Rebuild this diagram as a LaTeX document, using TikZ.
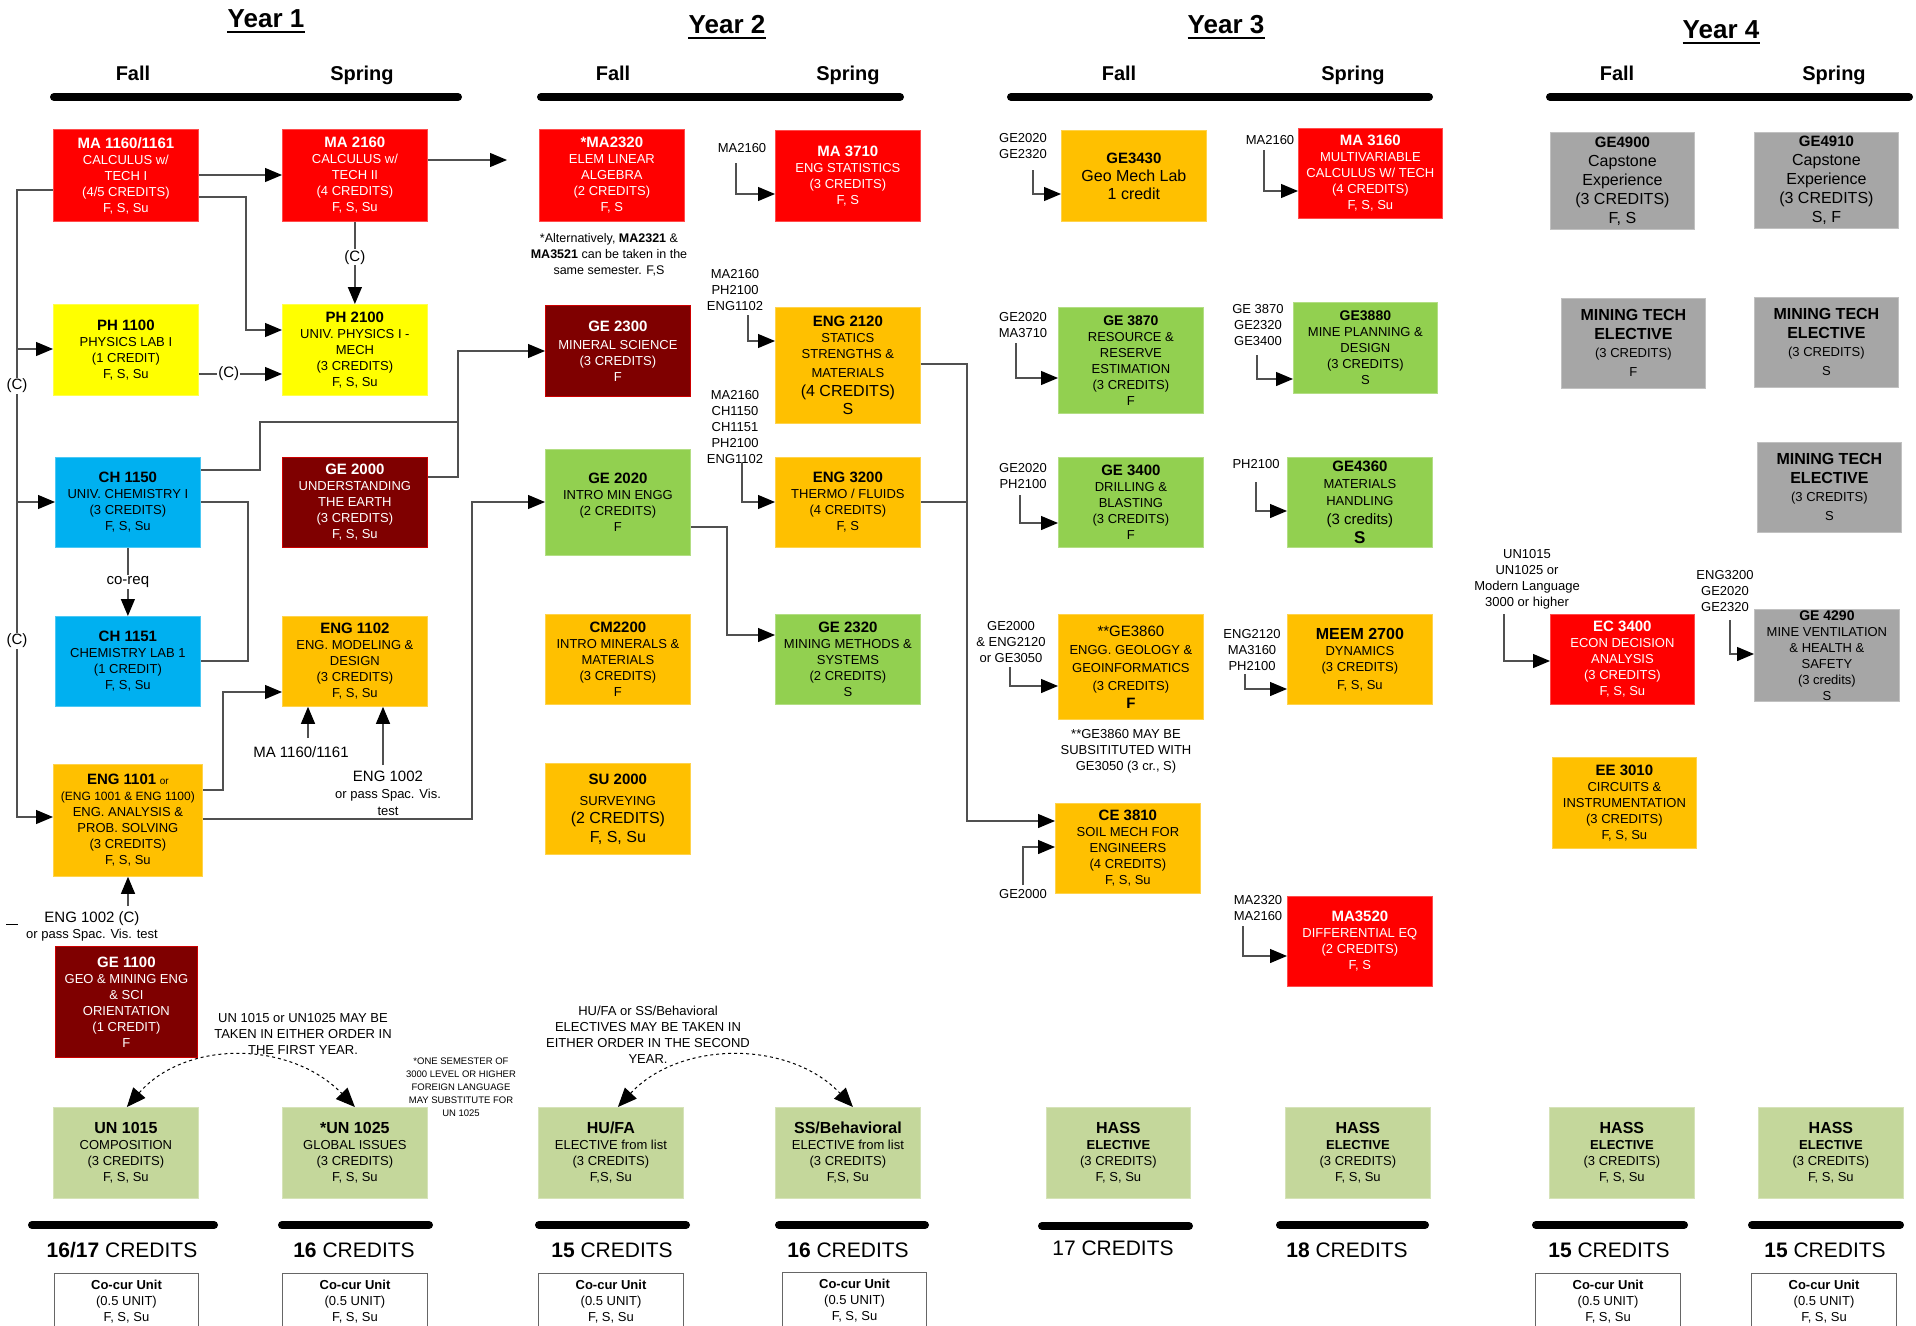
\documentclass[tikz,border=0pt]{standalone}
\usepackage{fontspec}
\setmainfont{Liberation Sans}
\usetikzlibrary{arrows.meta}
\definecolor{cred}{HTML}{FF0000}
\definecolor{cyel}{HTML}{FFFF00}
\definecolor{corg}{HTML}{FFC000}
\definecolor{ccya}{HTML}{00B0F0}
\definecolor{cdrd}{HTML}{7F0000}
\definecolor{cgrn}{HTML}{92D050}
\definecolor{clgr}{HTML}{C4D79B}
\definecolor{cgry}{HTML}{A6A6A6}
\definecolor{clin}{HTML}{505050}
\newcommand\fs[2]{\fontsize{#1}{#2}\selectfont}
\newcommand\crsT[1]{{\fs{15}{16}\bfseries #1}}
\newcommand\crsbox[7]{%
  \pgfmathsetmacro\crsW{#4-#2}\pgfmathsetmacro\crsH{#5-#3}%
  \node[#6, minimum width=\crsW pt, minimum height=\crsH pt] (#1) at (#2,#3) {#7};}
\begin{document}
\begin{tikzpicture}[x=1pt,y=-1pt,
  cb/.style={anchor=north west, inner sep=1pt, align=center, font=\fs{13}{16}, line width=0.8pt},
  redb/.style={cb, fill=cred, draw=cred!70!white, text=white},
  yelb/.style={cb, fill=cyel, draw=cyel!70!white},
  orgb/.style={cb, fill=corg, draw=corg!70!white},
  cyab/.style={cb, fill=ccya, draw=ccya!70!white},
  drdb/.style={cb, fill=cdrd, draw=red!80!black, text=white},
  grnb/.style={cb, fill=cgrn, draw=cgrn!70!white},
  lgrb/.style={cb, fill=clgr, draw=clgr!70!white},
  gryb/.style={cb, fill=cgry, draw=cgry!70!white},
  ccb/.style={anchor=north west, draw=black!60, line width=1pt, fill=white, align=center, font=\fs{13}{16}, inner sep=1pt},
  con/.style={draw=clin, line width=1.2pt},
  arr/.style={con, -{Triangle[length=17pt,width=14pt,color=black]}},
  darr/.style={draw=black, line width=1pt, dashed, {Triangle[length=19pt,width=16pt]}-{Triangle[length=19pt,width=16pt]}},
  lbl/.style={align=center, font=\fs{13}{16}, inner sep=0pt, anchor=north},
  tag/.style={fill=white, inner sep=1pt, font=\fs{15}{16}},
  bar/.style={line width=8pt, line cap=round},
  yr/.style={font=\fs{26}{30}\bfseries, inner sep=0pt},
  sem/.style={font=\fs{20}{24}\bfseries, inner sep=0pt, anchor=base},
  crtxt/.style={font=\fs{21}{24}, inner sep=0pt, anchor=base}]
\useasboundingbox (0,0) rectangle (1916,1325);
\clip (0,0) rectangle (1916,1325);
\fill[white] (0,0) rectangle (1916,1325);

% ---------- headers
\node[yr] (y1) at (266,19) {Year 1};
\node[yr] (y2) at (727,25) {Year 2};
\node[yr] (y3) at (1226,25) {Year 3};
\node[yr] (y4) at (1721,30) {Year 4};
\foreach \n in {y1,y2,y3,y4}
  \draw[line width=2pt] ([yshift=-4pt]\n.south west) -- ([yshift=-4pt]\n.south east);
\node[sem] (f1) at (133,80) {Fall};  \node[sem] (s1) at (362,80) {Spring};
\node[sem] (f2) at (613,80) {Fall};  \node[sem] (s2) at (848,80) {Spring};
\node[sem] (f3) at (1119,80) {Fall}; \node[sem] (s3) at (1353,80) {Spring};
\node[sem] (f4) at (1617,80) {Fall}; \node[sem] (s4) at (1834,80) {Spring};
\draw[bar] (54,97) -- (458,97);
\draw[bar] (541,97) -- (900,97);
\draw[bar] (1011,97) -- (1429,97);
\draw[bar] (1550,97) -- (1909,97);

% ---------- Year 1 fall
\crsbox{MA1160}{53}{129}{198}{221}{redb}{\crsT{MA 1160/1161}\\CALCULUS w/\\TECH I\\(4/5 CREDITS)\\F, S, Su}
\crsbox{PH1100}{53}{304}{198}{395}{yelb}{\crsT{PH 1100}\\PHYSICS LAB I\\(1 CREDIT)\\F, S, Su}
\crsbox{CH1150}{55}{457}{200}{547}{cyab}{\crsT{CH 1150}\\UNIV. CHEMISTRY I\\(3 CREDITS)\\F, S, Su}
\crsbox{CH1151}{55}{616}{200}{706}{cyab}{\crsT{CH 1151}\\CHEMISTRY LAB 1\\(1 CREDIT)\\F, S, Su}
\crsbox{ENG1101}{53}{764}{202}{876}{orgb}{\crsT{ENG 1101} {\fs{10}{16}or}\\{\fs{12}{16}(ENG 1001 \& ENG 1100)}\\ENG. ANALYSIS \&\\PROB. SOLVING\\(3 CREDITS)\\F, S, Su}
\crsbox{GE1100}{55}{946}{197}{1057}{drdb}{\crsT{GE 1100}\\GEO \& MINING ENG\\\& SCI\\ORIENTATION\\(1 CREDIT)\\F}
\crsbox{UN1015}{53}{1107}{198}{1198}{lgrb}{{\fs{16}{16}\bfseries UN 1015}\\COMPOSITION\\(3 CREDITS)\\F, S, Su}

% ---------- Year 1 spring
\crsbox{MA2160}{282}{129}{427}{221}{redb}{\crsT{MA 2160}\\CALCULUS w/\\TECH II\\(4 CREDITS)\\F, S, Su}
\crsbox{PH2100}{282}{304}{427}{395}{yelb}{\crsT{PH 2100}\\UNIV. PHYSICS I -\\MECH\\(3 CREDITS)\\F, S, Su}
\crsbox{GE2000}{282}{457}{427}{547}{drdb}{\crsT{GE 2000}\\UNDERSTANDING\\THE EARTH\\(3 CREDITS)\\F, S, Su}
\crsbox{ENG1102}{282}{616}{427}{706}{orgb}{\crsT{ENG 1102}\\ENG. MODELING \&\\DESIGN\\(3 CREDITS)\\F, S, Su}
\crsbox{UN1025}{282}{1107}{427}{1198}{lgrb}{{\fs{16}{16}\bfseries *UN 1025}\\GLOBAL ISSUES\\(3 CREDITS)\\F, S, Su}

% ---------- Year 2 fall
\crsbox{MA2320}{539}{129}{684}{221}{redb}{\crsT{*MA2320}\\ELEM LINEAR\\ALGEBRA\\(2 CREDITS)\\F, S}
\crsbox{GE2300}{545}{305}{690}{396}{drdb}{\crsT{GE 2300}\\[2pt]MINERAL SCIENCE\\(3 CREDITS)\\F}
\crsbox{GE2020}{545}{449}{690}{555}{grnb}{\crsT{GE 2020}\\INTRO MIN ENGG\\(2 CREDITS)\\F}
\crsbox{CM2200}{545}{614}{690}{704}{orgb}{\crsT{CM2200}\\INTRO MINERALS \&\\MATERIALS\\(3 CREDITS)\\F}
\crsbox{SU2000}{545}{763}{690}{854}{orgb}{\crsT{SU 2000}\\[5pt]SURVEYING\\[2pt]{\fs{16}{16}(2 CREDITS)}\\[3pt]{\fs{16}{16}F, S, Su}}
\crsbox{HUFA}{538}{1107}{683}{1198}{lgrb}{{\fs{16}{16}\bfseries HU/FA}\\ELECTIVE from list\\(3 CREDITS)\\F,S, Su}

% ---------- Year 2 spring
\crsbox{MA3710}{775}{130}{920}{221}{redb}{\crsT{MA 3710}\\ENG STATISTICS\\(3 CREDITS)\\F, S}
\crsbox{ENG2120}{775}{307}{920}{423}{orgb}{\crsT{ENG 2120}\\STATICS\\STRENGTHS \&\\[3pt]MATERIALS\\[3pt]{\fs{16}{16}(4 CREDITS)}\\[2pt]{\fs{16}{16}S}}
\crsbox{ENG3200}{775}{457}{920}{547}{orgb}{\crsT{ENG 3200}\\THERMO / FLUIDS\\(4 CREDITS)\\F, S}
\crsbox{GE2320}{775}{614}{920}{704}{grnb}{\crsT{GE 2320}\\MINING METHODS \&\\SYSTEMS\\(2 CREDITS)\\S}
\crsbox{SSB}{775}{1107}{920}{1198}{lgrb}{{\fs{16}{16}\bfseries SS/Behavioral}\\ELECTIVE from list\\(3 CREDITS)\\F,S, Su}

% ---------- Year 3 fall
\crsbox{GE3430}{1061}{130}{1206}{221}{orgb}{\crsT{GE3430}\\[2pt]{\fs{16}{16}Geo Mech Lab}\\[2pt]{\fs{16}{16}1 credit}}
\crsbox{GE3870}{1058}{307}{1203}{413}{grnb}{{\fs{14}{16}\bfseries GE 3870}\\RESOURCE \&\\RESERVE\\ESTIMATION\\(3 CREDITS)\\F}
\crsbox{GE3400}{1058}{457}{1203}{547}{grnb}{\crsT{GE 3400}\\DRILLING \&\\BLASTING\\(3 CREDITS)\\F}
\crsbox{GE3860}{1058}{614}{1203}{719}{orgb}{{\fs{15}{16}**GE3860}\\[2pt]ENGG. GEOLOGY \&\\[2pt]GEOINFORMATICS\\[2pt](3 CREDITS)\\[2pt]{\fs{15}{16}\bfseries F}}
\crsbox{CE3810}{1055}{803}{1200}{893}{orgb}{\crsT{CE 3810}\\SOIL MECH FOR\\ENGINEERS\\(4 CREDITS)\\F, S, Su}
\crsbox{HASS3F}{1046}{1107}{1190}{1198}{lgrb}{{\fs{16}{16}\bfseries HASS}\\\textbf{ELECTIVE}\\(3 CREDITS)\\F, S, Su}

% ---------- Year 3 spring
\crsbox{MA3160}{1298}{128}{1442}{218}{redb}{\crsT{MA 3160}\\MULTIVARIABLE\\CALCULUS W/ TECH\\(4 CREDITS)\\F, S, Su}
\crsbox{GE3880}{1293}{302}{1437}{393}{grnb}{{\fs{14}{16}\bfseries GE3880}\\MINE PLANNING \&\\DESIGN\\(3 CREDITS)\\S}
\crsbox{GE4360}{1287}{457}{1432}{547}{grnb}{\crsT{GE4360}\\[1pt]MATERIALS\\[1pt]HANDLING\\[3pt]{\fs{15}{16}(3 credits)}\\[3pt]{\fs{17}{16}\bfseries S}}
\crsbox{MEEM2700}{1287}{614}{1432}{704}{orgb}{{\fs{16}{16}\bfseries MEEM 2700}\\DYNAMICS\\(3 CREDITS)\\[2pt]F, S, Su}
\crsbox{MA3520}{1287}{896}{1432}{986}{redb}{\crsT{MA3520}\\DIFFERENTIAL EQ\\(2 CREDITS)\\F, S}
\crsbox{HASS3S}{1285}{1107}{1430}{1198}{lgrb}{{\fs{16}{16}\bfseries HASS}\\\textbf{ELECTIVE}\\(3 CREDITS)\\F, S, Su}

% ---------- Year 4 fall
\crsbox{GE4900}{1550}{132}{1694}{229}{gryb}{\crsT{GE4900}\\[3pt]{\fs{16}{16}Capstone}\\[3pt]{\fs{16}{16}Experience}\\[3pt]{\fs{16}{16}(3 CREDITS)}\\[3pt]{\fs{16}{16}F, S}}
\crsbox{MTE1}{1561}{298}{1705}{388}{gryb}{{\fs{16}{16}\bfseries MINING TECH}\\[3pt]{\fs{16}{16}\bfseries ELECTIVE}\\[2pt](3 CREDITS)\\[3pt]F}
\crsbox{EC3400}{1550}{614}{1694}{704}{redb}{\crsT{EC 3400}\\ECON DECISION\\ANALYSIS\\(3 CREDITS)\\F, S, Su}
\crsbox{EE3010}{1552}{757}{1696}{848}{orgb}{\crsT{EE 3010}\\CIRCUITS \&\\INSTRUMENTATION\\(3 CREDITS)\\F, S, Su}
\crsbox{HASS4F}{1549}{1107}{1694}{1198}{lgrb}{{\fs{16}{16}\bfseries HASS}\\\textbf{ELECTIVE}\\(3 CREDITS)\\F, S, Su}

% ---------- Year 4 spring
\crsbox{GE4910}{1754}{132}{1898}{228}{gryb}{\crsT{GE4910}\\[3pt]{\fs{16}{16}Capstone}\\[3pt]{\fs{16}{16}Experience}\\[3pt]{\fs{16}{16}(3 CREDITS)}\\[3pt]{\fs{16}{16}S, F}}
\crsbox{MTE2}{1754}{297}{1898}{387}{gryb}{{\fs{16}{16}\bfseries MINING TECH}\\[3pt]{\fs{16}{16}\bfseries ELECTIVE}\\[2pt](3 CREDITS)\\[3pt]S}
\crsbox{MTE3}{1757}{442}{1901}{532}{gryb}{{\fs{16}{16}\bfseries MINING TECH}\\[3pt]{\fs{16}{16}\bfseries ELECTIVE}\\[2pt](3 CREDITS)\\[3pt]S}
\crsbox{GE4290}{1754}{609}{1899}{700}{gryb}{{\fs{14}{16}\bfseries GE 4290}\\MINE VENTILATION\\\& HEALTH \&\\SAFETY\\(3 credits)\\S}
\crsbox{HASS4S}{1758}{1107}{1903}{1198}{lgrb}{{\fs{16}{16}\bfseries HASS}\\\textbf{ELECTIVE}\\(3 CREDITS)\\F, S, Su}

% ---------- prerequisite labels
\node[lbl] (lMA3710) at (742,143) {MA2160};
\node[lbl] (lENG2120) at (735,269) {MA2160\\PH2100\\ENG1102};
\node[lbl] (lENG3200) at (735,390) {MA2160\\CH1150\\CH1151\\PH2100\\ENG1102};
\node[lbl] (lGE3430) at (1023,133) {GE2020\\GE2320};
\node[lbl] (lMA3160) at (1270,135) {MA2160};
\node[lbl] (lGE3870) at (1023,312) {GE2020\\MA3710};
\node[lbl] (lGE3880) at (1258,304) {GE 3870\\GE2320\\GE3400};
\node[lbl] (lGE3400) at (1023,463) {GE2020\\PH2100};
\node[lbl] (lGE4360) at (1256,459) {PH2100};
\node[lbl] (lGE3860) at (1011,621) {GE2000\\\& ENG2120\\or GE3050};
\node[lbl] (lMEEM) at (1252,629) {ENG2120\\MA3160\\PH2100};
\node[lbl] (lCE3810) at (1023,889) {GE2000};
\node[lbl] (lMA3520) at (1258,895) {MA2320\\MA2160};
\node[lbl] (lEC3400) at (1527,549) {UN1015\\UN1025 or\\Modern Language\\3000 or higher};
\node[lbl] (lGE4290) at (1725,570) {ENG3200\\GE2020\\GE2320};
\node[lbl] (lE02a) at (301,746) {{\fs{15}{16}MA 1160/1161}};
\node[lbl] (lE02b) at (388,771) {{\fs{15}{16}ENG 1002}\\[1pt]or pass Spac. Vis.\\[1pt]test};
\node[lbl] (lE01) at (92,911) {{\fs{15}{16}ENG 1002 (C)}\\or pass Spac. Vis. test};
\draw[line width=1pt] (6,924) -- (18,924);

% ---------- notes
\node[lbl, font=\fs{12.5}{16}] (nMA) at (609,233) {*Alternatively, \textbf{MA2321} \&\\\textbf{MA3521} can be taken in the\\same semester. F,S};
\node[lbl] (nUN) at (303,1013) {UN 1015 or UN1025 MAY BE\\TAKEN IN EITHER ORDER IN\\THE FIRST YEAR.};
\node[lbl, font=\fs{9.5}{13}] (nFL) at (461,1058) {*ONE SEMESTER OF\\3000 LEVEL OR HIGHER\\FOREIGN LANGUAGE\\MAY SUBSTITUTE FOR\\UN 1025};
\node[lbl] (nHU) at (648,1006) {HU/FA or SS/Behavioral\\ELECTIVES MAY BE TAKEN IN\\EITHER ORDER IN THE SECOND\\YEAR.};
\node[lbl] (nGE) at (1126,729) {**GE3860 MAY BE\\SUBSITITUTED WITH\\GE3050 (3 cr., S)};

% ---------- connectors Year 1
\draw[arr] (MA1160.east |- 0,175) -- (MA2160.west |- 0,175);
\draw[arr] (MA1160.east |- 0,197) -- (246,197) -- (246,330) -- (PH2100.west |- 0,330);
\draw[arr] (MA2160.south) -- node[tag, pos=0.43] (tC1) {(C)} (PH2100.north);
\draw[arr] (PH1100.east |- 0,374) -- node[tag, pos=0.36] (tC2) {(C)} (PH2100.west |- 0,374);
\coordinate (fMA) at (507,160);
\draw[arr] (MA2160.east |- 0,160) -- (fMA);
\draw[arr] (MA1160.west |- 0,190) -- (17,190) -- (17,817) -- (ENG1101.west |- 0,817);
\draw[arr] (17,349) -- (PH1100.west |- 0,349);
\draw[arr] (17,502) -- (CH1150.west |- 0,502);
\node[tag] (tC3) at (17,386) {(C)};
\node[tag] (tC4) at (17,641) {(C)};
\draw[arr] (CH1150.south) -- node[tag, pos=0.5] (tCo) {co-req} (CH1151.north);
\draw[con] (CH1150.east |- 0,502) -- (248,502) -- (248,661) -- (CH1151.east |- 0,661);
\draw[con] (CH1150.east |- 0,470) -- (260,470) -- (260,422) -- (458,422);
\draw[arr] (GE2000.east |- 0,477) -- (458,477) -- (458,351) -- (GE2300.west |- 0,351);
\draw[arr] (ENG1101.east |- 0,790) -- (223,790) -- (223,692) -- (ENG1102.west |- 0,692);
\draw[arr] (ENG1101.east |- 0,819) -- (472,819) -- (472,502) -- (GE2020.west |- 0,502);
\coordinate (pE02a) at (308,738);
\coordinate (pE02b) at (383,765);
\coordinate (pE01) at (128,906);
\draw[arr] (pE02a) -- (ENG1102.south -| pE02a);
\draw[arr] (pE02b) -- (ENG1102.south -| pE02b);
\draw[arr] (pE01) -- (ENG1101.south -| pE01);

% ---------- connectors Year 2
\coordinate (pMA3710) at (736,163);
\draw[arr] (pMA3710) |- (MA3710.west |- 0,194);
\coordinate (pENG2120) at (748,315);
\draw[arr] (pENG2120) |- (ENG2120.west |- 0,341);
\coordinate (pENG3200) at (742,463);
\draw[arr] (pENG3200) |- (ENG3200.west |- 0,502);
\draw[arr] (GE2020.east |- 0,527) -- (727,527) |- (GE2320.west |- 0,635);
\draw[arr] (ENG2120.east |- 0,364) -- (967,364) |- (CE3810.west |- 0,821);
\draw[con] (ENG3200.east |- 0,502) -- (967,502);

% ---------- connectors Year 3 / 4
\coordinate (pGE3430) at (1033,170);
\draw[arr] (pGE3430) |- (GE3430.west |- 0,194);
\coordinate (pMA3160) at (1264,150);
\draw[arr] (pMA3160) |- (MA3160.west |- 0,191);
\coordinate (pGE3870) at (1016,343);
\draw[arr] (pGE3870) |- (GE3870.west |- 0,378);
\coordinate (pGE3880) at (1257,355);
\draw[arr] (pGE3880) |- (GE3880.west |- 0,379);
\coordinate (pGE3400) at (1020,495);
\draw[arr] (pGE3400) |- (GE3400.west |- 0,523);
\coordinate (pGE4360) at (1256,482);
\draw[arr] (pGE4360) |- (GE4360.west |- 0,511);
\coordinate (pGE3860) at (1010,667);
\draw[arr] (pGE3860) |- (GE3860.west |- 0,686);
\coordinate (pMEEM) at (1245,674);
\draw[arr] (pMEEM) |- (MEEM2700.west |- 0,689);
\coordinate (pCE3810) at (1023,885);
\draw[arr] (pCE3810) |- (CE3810.west |- 0,847);
\coordinate (pMA3520) at (1243,926);
\draw[arr] (pMA3520) |- (MA3520.west |- 0,956);
\coordinate (pEC3400) at (1504,614);
\draw[arr] (pEC3400) |- (EC3400.west |- 0,661);
\coordinate (pGE4290) at (1730,620);
\draw[arr] (pGE4290) |- (GE4290.west |- 0,654);

% ---------- dashed either-order arrows
\draw[darr] ([xshift=1pt]UN1015.north) .. controls (185,1040) and (290,1040) .. (UN1025.north);
\draw[darr] ([xshift=7pt]HUFA.north) .. controls (680,1040) and (790,1040) .. ([xshift=5pt]SSB.north);

% ---------- credit totals
\draw[bar] (32,1225) -- (214,1225);
\draw[bar] (282,1225) -- (429,1225);
\draw[bar] (539,1225) -- (686,1225);
\draw[bar] (779,1225) -- (925,1225);
\draw[bar] (1042,1226) -- (1189,1226);
\draw[bar] (1280,1225) -- (1425,1225);
\draw[bar] (1536,1225) -- (1684,1225);
\draw[bar] (1752,1225) -- (1900,1225);
\node[crtxt] (cr1) at (122,1257) {\textbf{16/17} CREDITS};
\node[crtxt] (cr2) at (354,1257) {\textbf{16} CREDITS};
\node[crtxt] (cr3) at (612,1257) {\textbf{15} CREDITS};
\node[crtxt] (cr4) at (848,1257) {\textbf{16} CREDITS};
\node[crtxt] (cr5) at (1113,1255) {17 CREDITS};
\node[crtxt] (cr6) at (1347,1257) {\textbf{18} CREDITS};
\node[crtxt] (cr7) at (1609,1257) {\textbf{15} CREDITS};
\node[crtxt] (cr8) at (1825,1257) {\textbf{15} CREDITS};

% ---------- co-curricular units
\node[ccb, minimum width=144pt, minimum height=56pt] (cc1) at (54,1273) {\textbf{Co-cur Unit}\\(0.5 UNIT)\\F, S, Su};
\node[ccb, minimum width=145pt, minimum height=56pt] (cc2) at (282,1273) {\textbf{Co-cur Unit}\\(0.5 UNIT)\\F, S, Su};
\node[ccb, minimum width=145pt, minimum height=56pt] (cc3) at (538,1273) {\textbf{Co-cur Unit}\\(0.5 UNIT)\\F, S, Su};
\node[ccb, minimum width=144pt, minimum height=56pt] (cc4) at (782,1272) {\textbf{Co-cur Unit}\\(0.5 UNIT)\\F, S, Su};
\node[ccb, minimum width=145pt, minimum height=56pt] (cc5) at (1535,1273) {\textbf{Co-cur Unit}\\(0.5 UNIT)\\F, S, Su};
\node[ccb, minimum width=145pt, minimum height=56pt] (cc6) at (1751,1273) {\textbf{Co-cur Unit}\\(0.5 UNIT)\\F, S, Su};
\end{tikzpicture}
\end{document}
